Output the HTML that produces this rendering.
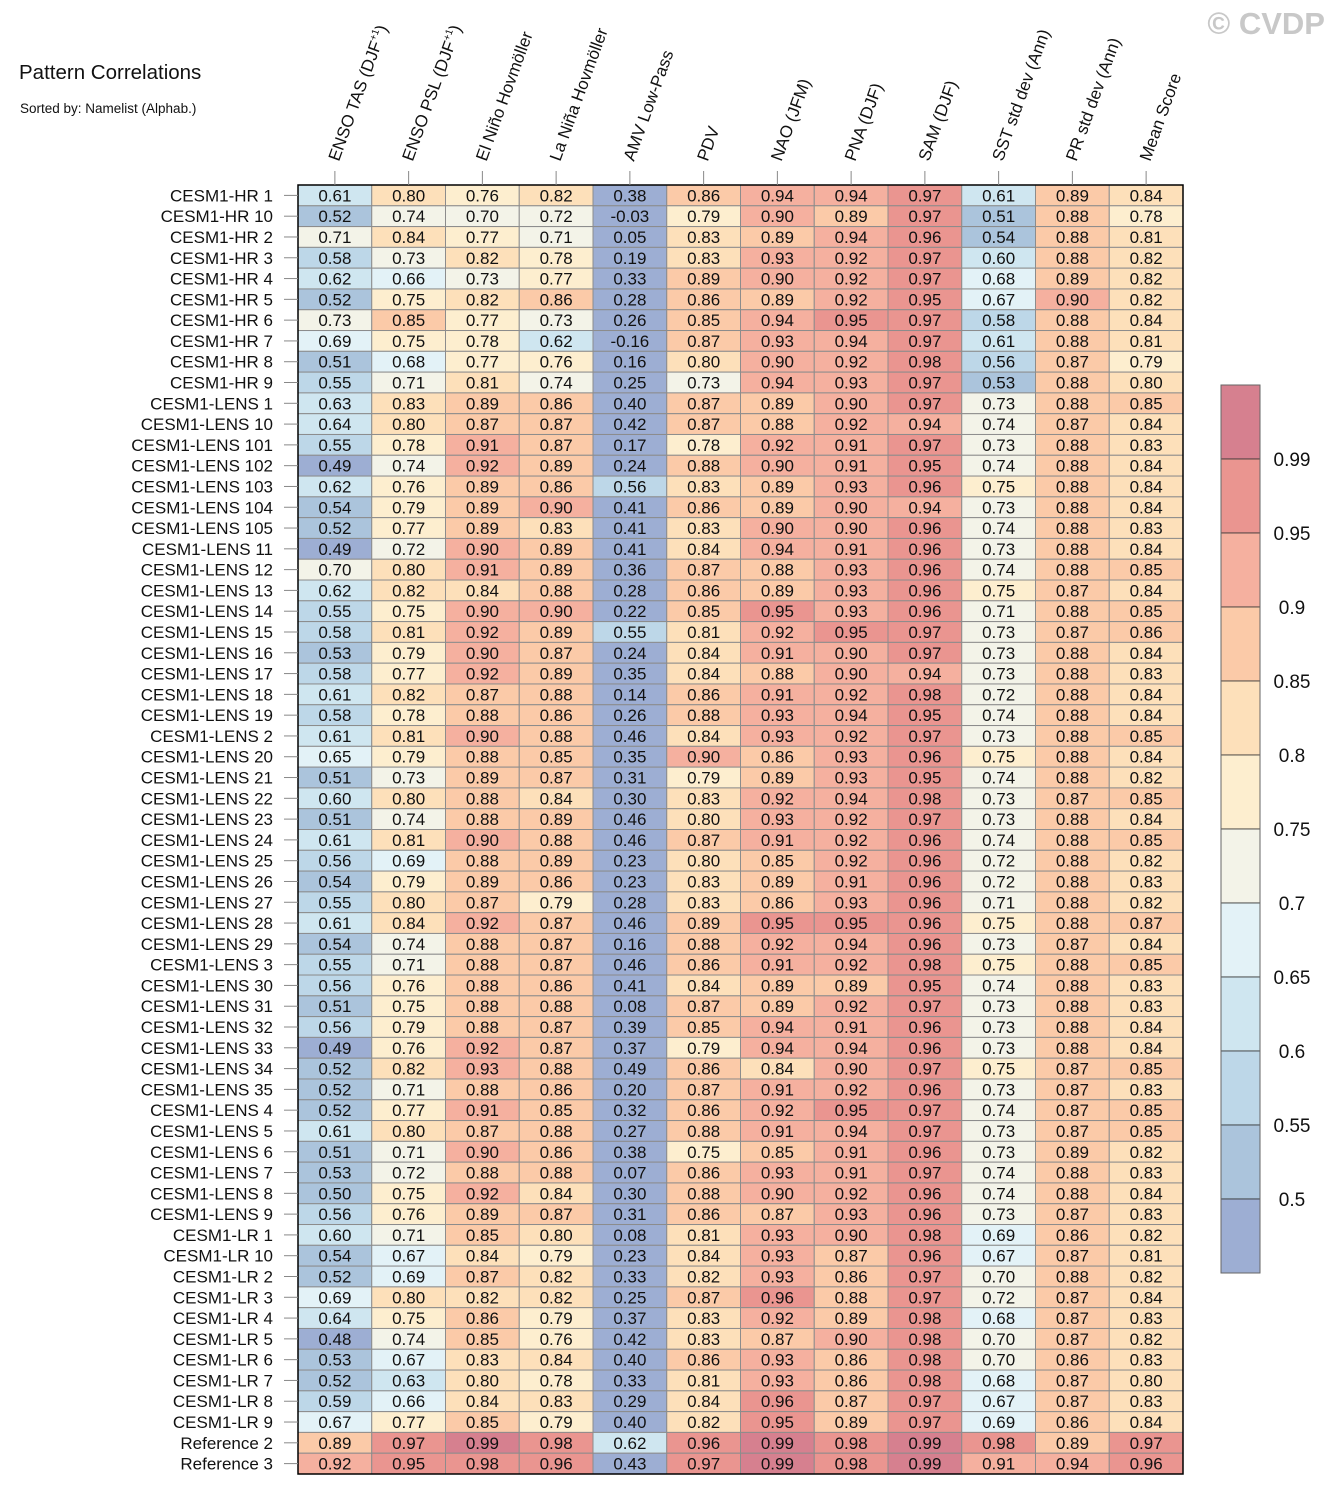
<!DOCTYPE html>
<html><head><meta charset="utf-8"><style>
body{margin:0;background:#fff;}
svg{display:block;font-family:"Liberation Sans",Arial,sans-serif;}
</style></head><body>
<svg id="chart" width="1333" height="1496" viewBox="0 0 1333 1496">
<text x="19" y="79" font-size="20.5" fill="#111">Pattern Correlations</text>
<text x="20" y="113" font-size="13.5" fill="#111">Sorted by: Namelist (Alphab.)</text>
<text x="1325" y="34" font-size="31" font-weight="bold" fill="#c8c8c8" text-anchor="end">© CVDP</text>
<g id="cells"></g><g id="rowlabels"></g><g id="collabels"></g><g id="cbar"></g>
</svg>
<script>
const columns=["ENSO TAS (DJF","ENSO PSL (DJF","El Niño Hovmöller","La Niña Hovmöller","AMV Low-Pass","PDV","NAO (JFM)","PNA (DJF)","SAM (DJF)","SST std dev (Ann)","PR std dev (Ann)","Mean Score"];
const rows=["CESM1-HR 1","CESM1-HR 10","CESM1-HR 2","CESM1-HR 3","CESM1-HR 4","CESM1-HR 5","CESM1-HR 6","CESM1-HR 7","CESM1-HR 8","CESM1-HR 9",
"CESM1-LENS 1","CESM1-LENS 10","CESM1-LENS 101","CESM1-LENS 102","CESM1-LENS 103","CESM1-LENS 104","CESM1-LENS 105","CESM1-LENS 11","CESM1-LENS 12","CESM1-LENS 13","CESM1-LENS 14","CESM1-LENS 15","CESM1-LENS 16","CESM1-LENS 17","CESM1-LENS 18","CESM1-LENS 19","CESM1-LENS 2","CESM1-LENS 20","CESM1-LENS 21","CESM1-LENS 22","CESM1-LENS 23","CESM1-LENS 24","CESM1-LENS 25","CESM1-LENS 26","CESM1-LENS 27","CESM1-LENS 28","CESM1-LENS 29","CESM1-LENS 3","CESM1-LENS 30","CESM1-LENS 31","CESM1-LENS 32","CESM1-LENS 33","CESM1-LENS 34","CESM1-LENS 35","CESM1-LENS 4","CESM1-LENS 5","CESM1-LENS 6","CESM1-LENS 7","CESM1-LENS 8","CESM1-LENS 9",
"CESM1-LR 1","CESM1-LR 10","CESM1-LR 2","CESM1-LR 3","CESM1-LR 4","CESM1-LR 5","CESM1-LR 6","CESM1-LR 7","CESM1-LR 8","CESM1-LR 9","Reference 2","Reference 3"];
const values=[
[.61,.80,.76,.82,.38,.86,.94,.94,.97,.61,.89,.84],
[.52,.74,.70,.72,-.03,.79,.90,.89,.97,.51,.88,.78],
[.71,.84,.77,.71,.05,.83,.89,.94,.96,.54,.88,.81],
[.58,.73,.82,.78,.19,.83,.93,.92,.97,.60,.88,.82],
[.62,.66,.73,.77,.33,.89,.90,.92,.97,.68,.89,.82],
[.52,.75,.82,.86,.28,.86,.89,.92,.95,.67,.90,.82],
[.73,.85,.77,.73,.26,.85,.94,.95,.97,.58,.88,.84],
[.69,.75,.78,.62,-.16,.87,.93,.94,.97,.61,.88,.81],
[.51,.68,.77,.76,.16,.80,.90,.92,.98,.56,.87,.79],
[.55,.71,.81,.74,.25,.73,.94,.93,.97,.53,.88,.80],
[.63,.83,.89,.86,.40,.87,.89,.90,.97,.73,.88,.85],
[.64,.80,.87,.87,.42,.87,.88,.92,.94,.74,.87,.84],
[.55,.78,.91,.87,.17,.78,.92,.91,.97,.73,.88,.83],
[.49,.74,.92,.89,.24,.88,.90,.91,.95,.74,.88,.84],
[.62,.76,.89,.86,.56,.83,.89,.93,.96,.75,.88,.84],
[.54,.79,.89,.90,.41,.86,.89,.90,.94,.73,.88,.84],
[.52,.77,.89,.83,.41,.83,.90,.90,.96,.74,.88,.83],
[.49,.72,.90,.89,.41,.84,.94,.91,.96,.73,.88,.84],
[.70,.80,.91,.89,.36,.87,.88,.93,.96,.74,.88,.85],
[.62,.82,.84,.88,.28,.86,.89,.93,.96,.75,.87,.84],
[.55,.75,.90,.90,.22,.85,.95,.93,.96,.71,.88,.85],
[.58,.81,.92,.89,.55,.81,.92,.95,.97,.73,.87,.86],
[.53,.79,.90,.87,.24,.84,.91,.90,.97,.73,.88,.84],
[.58,.77,.92,.89,.35,.84,.88,.90,.94,.73,.88,.83],
[.61,.82,.87,.88,.14,.86,.91,.92,.98,.72,.88,.84],
[.58,.78,.88,.86,.26,.88,.93,.94,.95,.74,.88,.84],
[.61,.81,.90,.88,.46,.84,.93,.92,.97,.73,.88,.85],
[.65,.79,.88,.85,.35,.90,.86,.93,.96,.75,.88,.84],
[.51,.73,.89,.87,.31,.79,.89,.93,.95,.74,.88,.82],
[.60,.80,.88,.84,.30,.83,.92,.94,.98,.73,.87,.85],
[.51,.74,.88,.89,.46,.80,.93,.92,.97,.73,.88,.84],
[.61,.81,.90,.88,.46,.87,.91,.92,.96,.74,.88,.85],
[.56,.69,.88,.89,.23,.80,.85,.92,.96,.72,.88,.82],
[.54,.79,.89,.86,.23,.83,.89,.91,.96,.72,.88,.83],
[.55,.80,.87,.79,.28,.83,.86,.93,.96,.71,.88,.82],
[.61,.84,.92,.87,.46,.89,.95,.95,.96,.75,.88,.87],
[.54,.74,.88,.87,.16,.88,.92,.94,.96,.73,.87,.84],
[.55,.71,.88,.87,.46,.86,.91,.92,.98,.75,.88,.85],
[.56,.76,.88,.86,.41,.84,.89,.89,.95,.74,.88,.83],
[.51,.75,.88,.88,.08,.87,.89,.92,.97,.73,.88,.83],
[.56,.79,.88,.87,.39,.85,.94,.91,.96,.73,.88,.84],
[.49,.76,.92,.87,.37,.79,.94,.94,.96,.73,.88,.84],
[.52,.82,.93,.88,.49,.86,.84,.90,.97,.75,.87,.85],
[.52,.71,.88,.86,.20,.87,.91,.92,.96,.73,.87,.83],
[.52,.77,.91,.85,.32,.86,.92,.95,.97,.74,.87,.85],
[.61,.80,.87,.88,.27,.88,.91,.94,.97,.73,.87,.85],
[.51,.71,.90,.86,.38,.75,.85,.91,.96,.73,.89,.82],
[.53,.72,.88,.88,.07,.86,.93,.91,.97,.74,.88,.83],
[.50,.75,.92,.84,.30,.88,.90,.92,.96,.74,.88,.84],
[.56,.76,.89,.87,.31,.86,.87,.93,.96,.73,.87,.83],
[.60,.71,.85,.80,.08,.81,.93,.90,.98,.69,.86,.82],
[.54,.67,.84,.79,.23,.84,.93,.87,.96,.67,.87,.81],
[.52,.69,.87,.82,.33,.82,.93,.86,.97,.70,.88,.82],
[.69,.80,.82,.82,.25,.87,.96,.88,.97,.72,.87,.84],
[.64,.75,.86,.79,.37,.83,.92,.89,.98,.68,.87,.83],
[.48,.74,.85,.76,.42,.83,.87,.90,.98,.70,.87,.82],
[.53,.67,.83,.84,.40,.86,.93,.86,.98,.70,.86,.83],
[.52,.63,.80,.78,.33,.81,.93,.86,.98,.68,.87,.80],
[.59,.66,.84,.83,.29,.84,.96,.87,.97,.67,.87,.83],
[.67,.77,.85,.79,.40,.82,.95,.89,.97,.69,.86,.84],
[.89,.97,.99,.98,.62,.96,.99,.98,.99,.98,.89,.97],
[.92,.95,.98,.96,.43,.97,.99,.98,.99,.91,.94,.96]];
const levels=[0.5,0.55,0.6,0.65,0.7,0.75,0.8,0.85,0.9,0.95,0.99];
const levelLabels=["0.5","0.55","0.6","0.65","0.7","0.75","0.8","0.85","0.9","0.95","0.99"];
const colors=["#9daed3","#abc4dc","#bdd7e8","#cfe6f0","#e3f2f7","#f3f3e8","#fdeecf","#fde0ba","#fbcaa8","#f5b09f","#ea9590","#d6808f"];

const NS="http://www.w3.org/2000/svg";
const X0=298,X1=1183,Y0=185,Y1=1474;
const cw=(X1-X0)/columns.length, rh=(Y1-Y0)/rows.length;
const xOf=i=>X0+i*cw, yOf=j=>Y0+j*rh;
function colorFor(v){let k=0;for(let i=0;i<levels.length;i++){if(Math.round(v*100)>=Math.round(levels[i]*100))k=i+1;}return colors[k];}
function mk(tag,attrs,parent){const e=document.createElementNS(NS,tag);for(const k in attrs)e.setAttribute(k,attrs[k]);parent.appendChild(e);return e;}
const gC=document.getElementById('cells'),gR=document.getElementById('rowlabels'),gL=document.getElementById('collabels'),gB=document.getElementById('cbar');
values.forEach((row,j)=>{row.forEach((v,i)=>{
  const r=mk('rect',{x:xOf(i),y:yOf(j),width:cw,height:rh,fill:colorFor(v),stroke:'#8c8c8c','stroke-width':1},gC);
  
  
  const t=mk('text',{x:xOf(i)+cw/2,y:yOf(j)+rh/2+6,'font-size':17,'text-anchor':'middle',fill:'#111'},gC);
  
  
  t.textContent=v.toFixed(2);
});});
mk('rect',{x:X0,y:Y0,width:X1-X0,height:Y1-Y0,fill:'none',stroke:'#000','stroke-width':1.5},gC);
rows.forEach((name,j)=>{
  const cy=yOf(j)+rh/2;
  mk('line',{x1:284,x2:X0,y1:cy,y2:cy,stroke:'#888','stroke-width':1},gR);
  const t=mk('text',{x:273,y:cy+6,'font-size':17,'text-anchor':'end',fill:'#111'},gR);
  
  
  t.textContent=name;
});
columns.forEach((name,i)=>{
  const cx=xOf(i)+cw/2;
  mk('line',{x1:cx,x2:cx,y1:171,y2:Y0,stroke:'#888','stroke-width':1},gL);
  const tx=cx+4,ty=162;
  const t=mk('text',{x:tx,y:ty,'font-size':17,fill:'#111',transform:`rotate(-70 ${tx} ${ty})`},gL);
  
  
  t.textContent=name;
  if(i<2){
    const s=mk('tspan',{'font-size':10,dy:-7},t);s.textContent='+1';
    const c=mk('tspan',{dy:7},t);c.textContent=')';
  }
});
const CB0=385,CBH=74,CBX=1221,CBW=39;
colors.slice().reverse().forEach((c,k)=>{
  const r=mk('rect',{x:CBX,y:CB0+k*CBH,width:CBW,height:CBH,fill:c,stroke:'#333','stroke-width':0.8},gB);
  
  
});
mk('rect',{x:CBX,y:CB0,width:CBW,height:CBH*colors.length,fill:'none',stroke:'#666','stroke-width':1},gB);
levelLabels.forEach((lab,i)=>{
  const y=CB0+(levels.length-i)*CBH;
  const t=mk('text',{x:1292,y:y+7,'font-size':19,'text-anchor':'middle',fill:'#111'},gB);
  
  
  t.textContent=lab;
});
</script>
</body></html>
